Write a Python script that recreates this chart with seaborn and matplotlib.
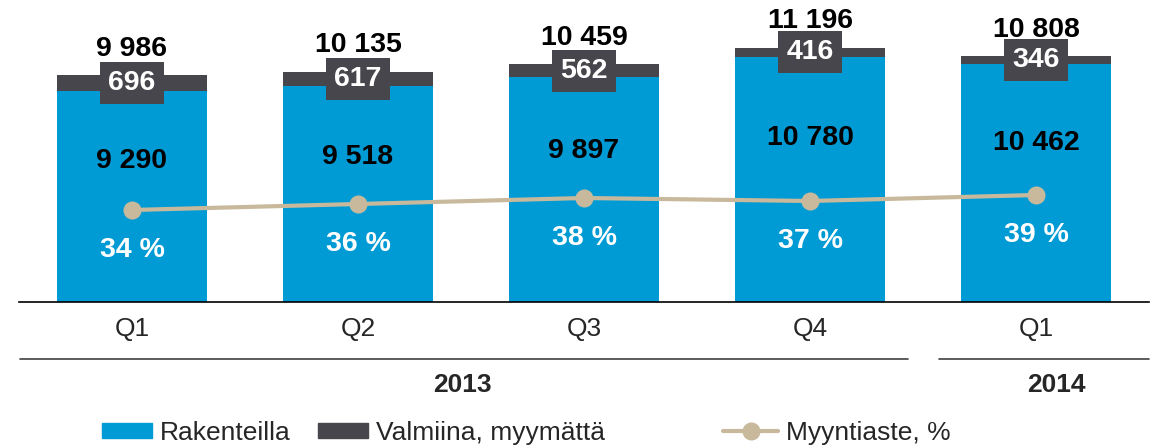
import numpy as np
import pandas as pd
import matplotlib.pyplot as plt
import matplotlib.transforms as mtransforms
from matplotlib.patches import Patch
from matplotlib.lines import Line2D
import seaborn as sns

# Data
quarters = ["Q1", "Q2", "Q3", "Q4", "Q1"]
years = ["2013", "2013", "2013", "2013", "2014"]
under_construction = [9290, 9518, 9897, 10780, 10462]
completed_unsold = [696, 617, 562, 416, 346]
sales_rate = [34, 36, 38, 37, 39]

blue = "#009BD5"
dark = "#47464C"
tan = "#C8B99C"

sns.set_style("white")
plt.rcParams["font.family"] = ["Liberation Sans", "DejaVu Sans"]

keys = [f"{q} {y}" for q, y in zip(quarters, years)]
df = pd.DataFrame({
    "key": keys,
    "blue": under_construction,
    "dark": completed_unsold,
    "pct": sales_rate,
})
df["total"] = df["blue"] + df["dark"]


def fmt(v):
    return f"{v:,}".replace(",", " ")


fig = plt.figure(figsize=(11.52, 4.48), dpi=100)
ax = fig.add_axes([19 / 1152, 146 / 448, 1130 / 1152, 282 / 448])

# stacked bars: total in dark, blue part drawn over it
sns.barplot(data=df, x="key", y="total", color=dark, width=0.66, saturation=1,
            ax=ax, edgecolor="none")
sns.barplot(data=df, x="key", y="blue", color=blue, width=0.66, saturation=1,
            ax=ax, edgecolor="none")
ax.set_xlim(-0.5, 4.5)
ax.set_ylim(0, 12406)
ax.set_xlabel("")
ax.set_ylabel("")
ax.set_yticks([])
for s in ["left", "right", "top"]:
    ax.spines[s].set_visible(False)
ax.spines["bottom"].set_color("black")
ax.spines["bottom"].set_linewidth(1.2)

# category ticks
ax.set_xticks(range(len(quarters)))
ax.set_xticklabels(quarters, fontsize=19)
ax.tick_params(axis="x", which="major", length=0, pad=11)
ax.set_xticks(np.arange(-0.5, len(quarters)), minor=True)
ax.tick_params(axis="x", which="minor", length=6, width=1.2, direction="out",
               color="black")

# value labels
for i, row in df.iterrows():
    ax.annotate(fmt(row["total"]), (i, row["total"]), xytext=(0, 19),
                textcoords="offset points", ha="center", va="center",
                fontsize=20.5, fontweight="bold", color="black")
    ax.text(i, row["blue"] + row["dark"] / 2, fmt(row["dark"]), ha="center",
            va="center", fontsize=20.5, fontweight="bold", color="white",
            bbox=dict(boxstyle="square,pad=0.28", fc=dark, ec="none"))
    ax.text(i, row["blue"] * 0.67, fmt(row["blue"]), ha="center", va="center",
            fontsize=20.5, fontweight="bold", color="black")

# sales rate line on a hidden second axis
ax2 = ax.twinx()
sns.lineplot(x=np.arange(len(df)), y=df["pct"], ax=ax2, color=tan,
             linewidth=3, marker="o", markersize=13, markeredgewidth=0)
ax2.set_ylim(3.33, 97.33)
ax2.set_axis_off()
for i, p in enumerate(sales_rate):
    ax2.annotate(f"{p} %", (i, p), xytext=(0, -29), textcoords="offset points",
                 ha="center", va="center", fontsize=20.5, fontweight="bold",
                 color="white")

# year grouping lines
trans = mtransforms.blended_transform_factory(ax.transData, ax.transAxes)
ax.plot([-0.496, 3.434], [-0.202, -0.202], transform=trans, color="#404040",
        linewidth=1.2, clip_on=False)
ax.plot([3.57, 4.5], [-0.202, -0.202], transform=trans, color="#404040",
        linewidth=1.2, clip_on=False)
ax.text(1.46, -0.294, "2013", transform=trans, ha="center", va="center",
        fontsize=19, fontweight="bold")
ax.text(4.09, -0.294, "2014", transform=trans, ha="center", va="center",
        fontsize=19, fontweight="bold")

# legend entries
leg_kw = dict(frameon=False, fontsize=19, handletextpad=0.3, borderpad=0,
              borderaxespad=0, loc="center left")
fig.legend(handles=[Patch(color=blue, label="Rakenteilla")],
           bbox_to_anchor=(102 / 1152, 15 / 448), handlelength=1.9,
           handleheight=0.5, **leg_kw)
fig.legend(handles=[Patch(color=dark, label="Valmiina, myymättä")],
           bbox_to_anchor=(318 / 1152, 15 / 448), handlelength=1.9,
           handleheight=0.5, **leg_kw)
fig.legend(handles=[Line2D([], [], color=tan, linewidth=3, marker="o",
                           markersize=13, markeredgewidth=0,
                           label="Myyntiaste, %")],
           bbox_to_anchor=(723 / 1152, 15 / 448), handlelength=2.1, **leg_kw)

fig.savefig("out.png", dpi=100)
